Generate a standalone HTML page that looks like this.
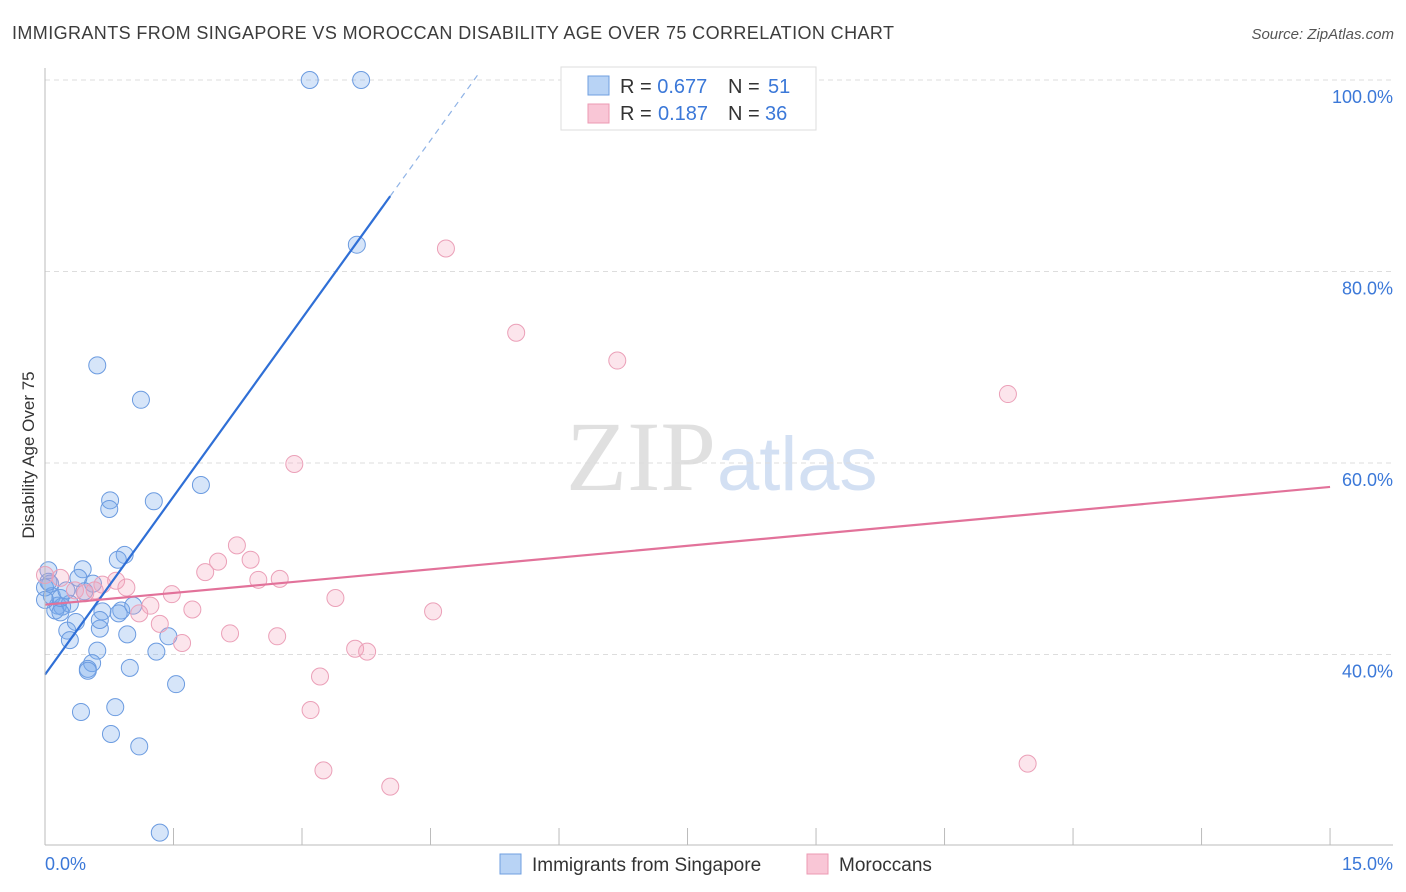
<!DOCTYPE html>
<html><head><meta charset="utf-8"><style>
body{margin:0;background:#fff;font-family:"Liberation Sans",sans-serif;}
#c{position:relative;width:1406px;height:892px;overflow:hidden;}
</style></head><body>
<div id="c">
<svg id="s" width="1406" height="892" xmlns="http://www.w3.org/2000/svg">
<text x="12" y="39" font-size="18" letter-spacing="0.4" fill="#3c3c3c">IMMIGRANTS FROM SINGAPORE VS MOROCCAN DISABILITY AGE OVER 75 CORRELATION CHART</text>
<text x="1394" y="39" font-size="15" fill="#555" font-style="italic" text-anchor="end">Source: ZipAtlas.com</text>
<text x="716" y="490" font-size="100" fill="#e0e0e0" font-family="Liberation Serif,serif" text-anchor="end">ZIP</text>
<text x="717" y="490" font-size="76" fill="#d3e0f3">atlas</text>
<text transform="translate(34,455) rotate(-90)" font-size="17" fill="#333" text-anchor="middle">Disability Age Over 75</text>
<g id="grid"></g><g id="pts"></g><g id="lines"></g>
<line x1="45" y1="68" x2="45" y2="845" stroke="#bbb"/>
<line x1="45" y1="845" x2="1393" y2="845" stroke="#bbb"/>
<text x="45" y="870" font-size="18" fill="#3b78d8">0.0%</text>
<text x="1393" y="870" font-size="18" fill="#3b78d8" text-anchor="end">15.0%</text>
<g>
<rect x="561" y="67" width="255" height="63" fill="#fff" stroke="#ddd"/>
<rect x="588" y="76" width="21" height="19" fill="#b8d3f5" stroke="#6f9fe0"/>
<rect x="588" y="104" width="21" height="19" fill="#f9c6d6" stroke="#ec9ab3"/>
<text x="620" y="93" font-size="20" fill="#333">R = <tspan fill="#3b78d8">0.677</tspan><tspan x="728">N = </tspan><tspan x="768" fill="#3b78d8">51</tspan></text>
<text x="620" y="120" font-size="20" fill="#333">R = <tspan x="658" fill="#3b78d8">0.187</tspan><tspan x="728">N = </tspan><tspan x="765" fill="#3b78d8">36</tspan></text>
</g>
<g>
<rect x="500" y="854" width="21" height="20" fill="#b8d3f5" stroke="#6f9fe0"/>
<text x="532" y="871" font-size="19" fill="#333">Immigrants from Singapore</text>
<rect x="807" y="854" width="21" height="20" fill="#f9c6d6" stroke="#ec9ab3"/>
<text x="839" y="871" font-size="19" fill="#333">Moroccans</text>
</g>
</svg></div>
<script>
const yTicks=[40,60,80,100];
const xTicks=[0,1.5,3,4.5,6,7.5,9,10.5,12,13.5,15];
const blueX=[3.09,3.69,3.64,0.61,1.12,1.82,0.76,1.27,0.75,0.93,0.85,0.44,0.04,0.56,0.39,0.06,0.08,0.15,0.20,0.29,0.12,0.46,0.18,0.36,0.89,0.67,1.03,0.86,0.64,0.26,0.29,0.96,1.44,0.61,1.30,0.55,0.50,0.50,0.99,1.53,0.42,0.82,0.77,1.10,1.34,0.0,0.0,0.18,0.25,0.64,0.04];
const blueY=[100,100,82.8,70.2,66.6,57.7,56.1,56.0,55.2,50.4,49.9,48.9,48.8,47.4,48.0,47.4,46.1,45.1,45.0,45.3,44.6,46.6,44.4,43.4,44.6,44.5,45.1,44.3,42.7,42.5,41.5,42.1,41.9,40.4,40.3,39.1,38.5,38.3,38.6,36.9,34.0,34.5,31.7,30.4,21.4,47.0,45.7,45.9,46.7,43.6,47.6];
const pinkX=[4.68,5.50,6.68,11.24,2.91,2.24,2.40,2.02,1.87,2.49,2.74,0.83,0.95,0.67,1.48,1.23,1.72,1.10,1.34,3.39,4.53,2.16,2.71,1.60,3.62,3.76,3.21,3.10,3.25,4.03,11.47,0,0.18,0.35,0.47,0.58];
const pinkY=[82.4,73.6,70.7,67.2,59.9,51.4,49.9,49.7,48.6,47.8,47.9,47.7,47.0,47.3,46.3,45.1,44.7,44.3,43.2,45.9,44.5,42.2,41.9,41.2,40.6,40.3,37.7,34.2,27.9,26.2,28.6,48.3,48.0,46.7,46.4,46.7];
const blueTrend=[37.9,12.4];
const pinkTrend=[45.2,0.82];
const NS='http://www.w3.org/2000/svg';
const X=v=>45+v*85.67, Y=v=>80+(100-v)*9.575;
function mk(tag,at,parent){const e=document.createElementNS(NS,tag);for(const k in at)e.setAttribute(k,at[k]);document.getElementById(parent).appendChild(e);return e;}
yTicks.forEach(t=>{
 const l=mk('line',{x1:45,x2:1393,y1:Y(t),y2:Y(t),stroke:'#ddd','stroke-dasharray':'5,4'},'grid');
 
 
 const tx=mk('text',{x:1393,y:Y(t)+23,'font-size':18,fill:'#3b78d8','text-anchor':'end'},'grid');
 tx.textContent=t.toFixed(1)+'%';
 
 
});
xTicks.forEach(t=>{
 const l=mk('line',{x1:X(t),x2:X(t),y1:828,y2:845,stroke:'#bbb'},'grid');
 
 
});
blueX.forEach((v,i)=>{
 const c=mk('circle',{cx:X(v),cy:Y(blueY[i]),r:8.5,fill:'rgba(120,170,235,0.3)',stroke:'#6b9be0','stroke-width':1},'pts');
 
 
});
pinkX.forEach((v,i)=>{
 const c=mk('circle',{cx:X(v),cy:Y(pinkY[i]),r:8.5,fill:'rgba(245,160,188,0.28)',stroke:'#eba0b8','stroke-width':1},'pts');
 
 
});
const bl=mk('line',{x1:X(0),y1:Y(blueTrend[0]),x2:X(4.03),y2:Y(blueTrend[0]+blueTrend[1]*4.03),stroke:'#2f6fd6','stroke-width':2.2},'lines');


const bd=mk('line',{x1:X(4.03),y1:Y(blueTrend[0]+blueTrend[1]*4.03),x2:X(5.06),y2:Y(blueTrend[0]+blueTrend[1]*5.06),stroke:'#8fb3e6','stroke-width':1.2,'stroke-dasharray':'6,5'},'lines');


const pl=mk('line',{x1:X(0),y1:Y(pinkTrend[0]),x2:X(15),y2:Y(pinkTrend[0]+pinkTrend[1]*15),stroke:'#e2729a','stroke-width':2.2},'lines');


</script>
</body></html>
